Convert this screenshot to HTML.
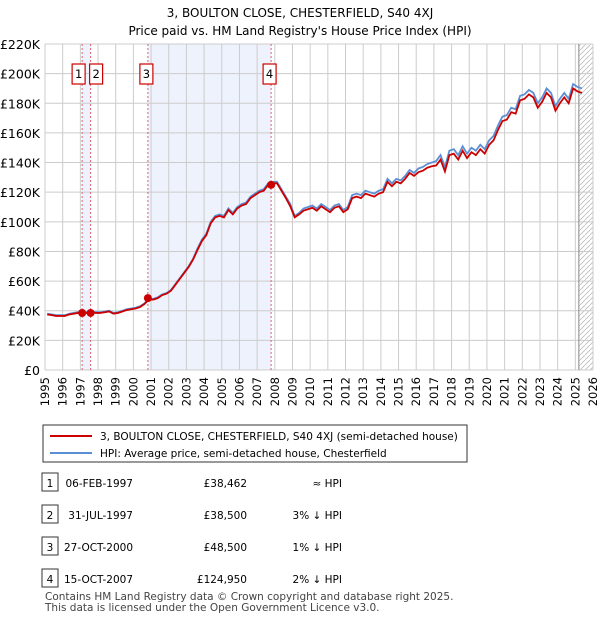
<!DOCTYPE html>
<html><head><meta charset="utf-8"><style>
body{margin:0;background:#fff;font-family:"DejaVu Sans","Liberation Sans",sans-serif;}
#wrap{position:relative;width:600px;height:620px;overflow:hidden}
</style></head><body>
<div id="wrap">
<svg id="svg" width="600" height="620" xmlns="http://www.w3.org/2000/svg" font-family="DejaVu Sans, Liberation Sans, sans-serif"></svg>
</div>
<script>
const years=[1995,1996,1997,1998,1999,2000,2001,2002,2003,2004,2005,2006,2007,2008,2009,2010,2011,2012,2013,2014,2015,2016,2017,2018,2019,2020,2021,2022,2023,2024,2025,2026];
const yTicks=[0,20,40,60,80,100,120,140,160,180,200,220];
const hpiValues=[38,37.5,37,37, 37,38,38.5,39, 39,39,39.5,39, 39,39.5,40,38.5, 39,40,41,41.5, 42,43,45,48, 48,49,51,52, 54,58,62,66, 70,75,82,88, 92,100,104,105, 104,109,106,110, 112,113,117,119, 121,122,126,127, 127,122,117,112, 104,106,109,110, 111,109,112,110, 108,111,112,108, 110,118,119,118, 121,120,119,121, 122,129,126,129, 128,131,135,133, 136,137,139,140, 141,145,137,148, 149,145,151,146, 150,148,152,149, 155,158,165,171, 172,177,176,185, 186,189,187,180, 184,190,187,178, 183,187,183,193, 191,190];
const priceValues=[37.5,37,36.5,36.5, 36.5,37.5,38,38.5, 38.5,38.5,39,38.5, 38.5,39,39.5,38, 38.5,39.5,40.5,41, 41.5,42.5,44.5,47.5, 47.5,48.5,50.5,51.5, 53.5,57.5,61.5,65.5, 69.5,74.5,81,87, 91,99,103,104, 103,108,105,109, 111,112,116,118, 120,121,125,126, 126,121,116,110.5, 103,105,107.5,108.5, 109.5,107.5,110.5,108.5, 106.5,109.5,110.5,106.5, 108.5,116,117,116, 119,118,117,119, 120,127,124,127, 126,129,133,131, 133.5,134.5,136.5,137.5, 138,142,134,145, 146,142,148,143, 147,145,149,146, 152,155,162,168, 169,174,173,182, 183,186,184,177, 181,187,184,175, 180,184,180,190, 188,187];
const saleDates=[1997.10,1997.58,2000.82,2007.79];
const salePrices=[38.462,38.5,48.5,124.95];
const saleLabels=["1","2","3","4"];
const X0=45,X1=593,Y0=370,Y1=44;
const x=t=>X0+(t-1995)/(2026-1995)*(X1-X0);
const y=v=>Y0-v/220*(Y0-Y1);
const svg=document.getElementById('svg');const NS="http://www.w3.org/2000/svg";
function mk(tag,attrs,parent){const e=document.createElementNS(NS,tag);for(const k in attrs)e.setAttribute(k,attrs[k]);(parent||svg).appendChild(e);return e;}
function txt(s,attrs){const e=mk('text',attrs);e.textContent=s;return e;}
let t1=txt("3, BOULTON CLOSE, CHESTERFIELD, S40 4XJ",{x:300,y:17,'text-anchor':'middle','font-size':12});


let t2=txt("Price paid vs. HM Land Registry's House Price Index (HPI)",{x:300,y:35,'text-anchor':'middle','font-size':12});


for(const [a,b] of [[0,1],[2,3]]){const r=mk('rect',{x:x(saleDates[a]),y:Y1,width:x(saleDates[b])-x(saleDates[a]),height:Y0-Y1,fill:'#eef2fc'});

}
const defs=mk('defs',{});const pat=mk('pattern',{id:'h',width:5,height:5,patternUnits:'userSpaceOnUse'},defs);
mk('path',{d:'M0,5 L5,0',stroke:'#bbb','stroke-width':0.8},pat);
const hr=mk('rect',{x:x(2025.2),y:Y1,width:X1-x(2025.2),height:Y0-Y1,fill:'url(#h)'});


years.forEach(yr=>{const l=mk('line',{x1:x(yr),x2:x(yr),y1:Y1,y2:Y0,stroke:'#ccc'});


const tl=txt(String(yr),{x:0,y:0,'text-anchor':'end','font-size':11.5,transform:`translate(${x(yr)+4},377) rotate(-90)`});

});
yTicks.forEach(v=>{const l=mk('line',{x1:X0,x2:X1,y1:y(v),y2:y(v),stroke:'#ccc'});


const tl=txt(v===0?'£0':'£'+v+'K',{x:40,y:y(v)+5,'text-anchor':'end','font-size':12.5});

});
mk('line',{x1:x(2025.2),x2:x(2025.2),y1:Y1,y2:Y0,stroke:'#888'});
saleDates.forEach(d=>{const l=mk('line',{x1:x(d),x2:x(d),y1:Y1,y2:Y0,stroke:'#e06070','stroke-dasharray':'2,2'});

});
function pts(arr){return arr.map((v,i)=>x(1995+i/4+0.125)+','+y(v)).join(' ');}
const hl=mk('polyline',{points:pts(hpiValues),fill:'none',stroke:'#5b8fd4','stroke-width':1.8});


const pl=mk('polyline',{points:pts(priceValues),fill:'none',stroke:'#cc0000','stroke-width':1.8});


saleDates.forEach((d,i)=>{const c=mk('circle',{cx:x(d),cy:y(salePrices[i]),r:4,fill:'#cc0000'});


const g=mk('g',{});


const bx=x(d)-(i===0?10:i===1?1:8);
mk('rect',{x:bx,y:64,width:13,height:20,fill:'#fff',stroke:'#cc0000','stroke-width':1.2},g);
const tt=mk('text',{x:bx+6.5,y:78,'text-anchor':'middle','font-size':11.5},g);tt.textContent=saleLabels[i];});
const lg=mk('g',{});


mk('rect',{x:43,y:425,width:424,height:37,fill:'#fff',stroke:'#333'},lg);
mk('line',{x1:50,x2:92,y1:436,y2:436,stroke:'#cc0000','stroke-width':2},lg);
mk('line',{x1:50,x2:92,y1:453,y2:453,stroke:'#5b8fd4','stroke-width':2},lg);
let a=mk('text',{x:100,y:440,'font-size':10.5},lg);a.textContent="3, BOULTON CLOSE, CHESTERFIELD, S40 4XJ (semi-detached house)";
let b=mk('text',{x:100,y:457,'font-size':10.5},lg);b.textContent="HPI: Average price, semi-detached house, Chesterfield";
const tDates=["06-FEB-1997","31-JUL-1997","27-OCT-2000","15-OCT-2007"];
const tPrices=["£38,462","£38,500","£48,500","£124,950"];
const tHpi=["≈ HPI","3% ↓ HPI","1% ↓ HPI","2% ↓ HPI"];
const rowY=[485,517,549,581];
tDates.forEach((d,i)=>{const g=mk('g',{});


mk('rect',{x:42,y:rowY[i]-12,width:16,height:18,fill:'#fff',stroke:'#333'},g);
let n=mk('text',{x:50,y:rowY[i]+2,'text-anchor':'middle','font-size':10.5},g);n.textContent=saleLabels[i];
let e1=mk('text',{x:133,y:rowY[i]+2,'text-anchor':'end','font-size':10.5},g);e1.textContent=d;
let e2=mk('text',{x:247,y:rowY[i]+2,'text-anchor':'end','font-size':10.5},g);e2.textContent=tPrices[i];
let e3=mk('text',{x:342,y:rowY[i]+2,'text-anchor':'end','font-size':10.5},g);e3.textContent=tHpi[i];});
let f1=txt("Contains HM Land Registry data © Crown copyright and database right 2025.",{x:45,y:600,'font-size':10.5,fill:'#444'});


let f2=txt("This data is licensed under the Open Government Licence v3.0.",{x:45,y:611,'font-size':10.5,fill:'#444'});


</script>
</body></html>
